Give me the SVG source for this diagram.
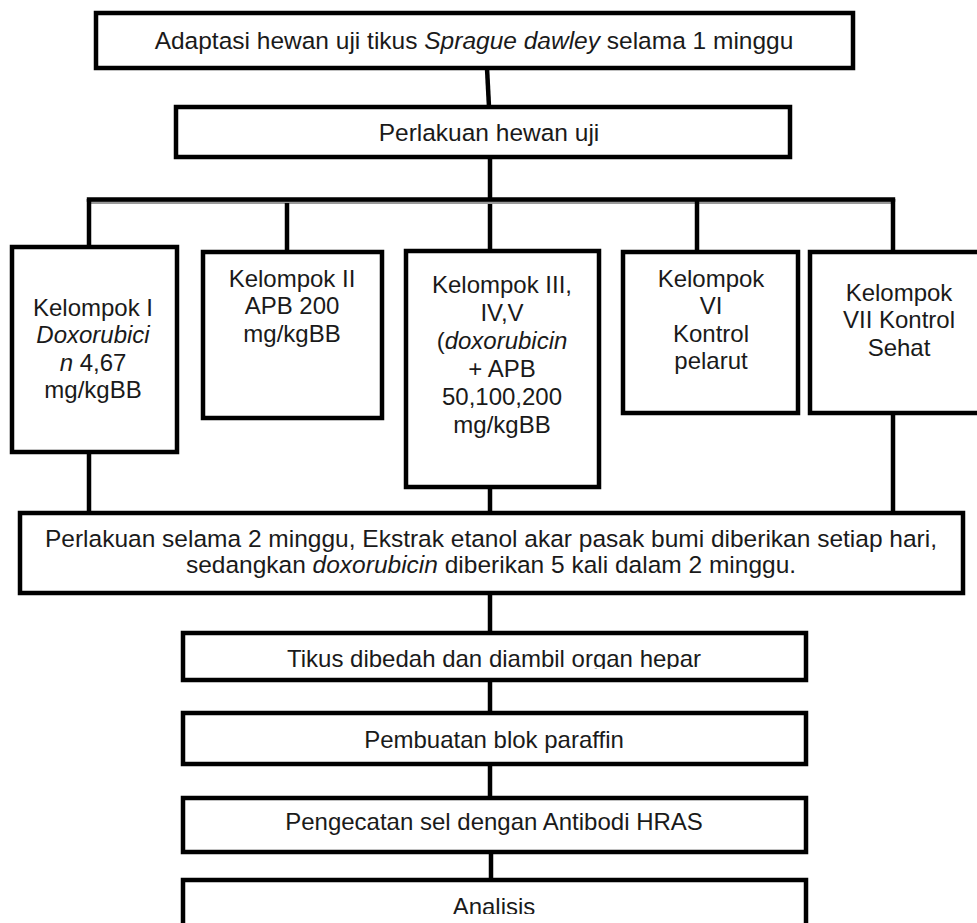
<svg xmlns="http://www.w3.org/2000/svg" width="977" height="923" viewBox="0 0 977 923">
<style>
.box{fill:#fff;stroke:#000;stroke-width:4.5}
.ln{stroke:#000;stroke-width:4.5;fill:none}
.t{font-family:"Liberation Sans",Arial,sans-serif;font-size:24px;fill:#1a1a1a;text-anchor:middle}
.w{font-size:24.5px}
.i{font-style:italic}
</style>
<defs>
<clipPath id="clipTikus"><rect x="185" y="636" width="620" height="33"/></clipPath>
<clipPath id="clipAnalisis"><rect x="185" y="883" width="620" height="31"/></clipPath>
</defs>
<rect width="977" height="923" fill="#fff"/>
<g id="connectors">
<line class="ln" x1="487" y1="68" x2="489" y2="107"/>
<line class="ln" x1="490" y1="157" x2="490" y2="251"/>
<line x1="88" y1="202.5" x2="893" y2="202.5" stroke="#999" stroke-width="3"/>
<line class="ln" x1="86.8" y1="199.5" x2="895.2" y2="199.5"/>
<line class="ln" x1="89" y1="199" x2="89" y2="247"/>
<line class="ln" x1="287" y1="203" x2="287" y2="252"/>
<line class="ln" x1="697" y1="199" x2="697" y2="252"/>
<line class="ln" x1="893" y1="199" x2="893" y2="252"/>
<line class="ln" x1="89" y1="452" x2="89" y2="513"/>
<line class="ln" x1="490" y1="487" x2="490" y2="513"/>
<line class="ln" x1="893" y1="413" x2="893" y2="513"/>
<line class="ln" x1="490" y1="593" x2="490" y2="633"/>
<line class="ln" x1="490" y1="680" x2="490" y2="713"/>
<line class="ln" x1="490" y1="764" x2="490" y2="798"/>
<line class="ln" x1="491" y1="852" x2="491" y2="880"/>
</g>
<g id="adaptasi">
<rect class="box" x="96" y="13" width="757" height="55"/>
<text class="t w" x="474" y="49">Adaptasi hewan uji tikus <tspan class="i">Sprague dawley</tspan> selama 1 minggu</text>
</g>
<g id="perlakuan">
<rect class="box" x="176" y="107" width="614" height="50"/>
<text class="t w" x="489" y="141">Perlakuan hewan uji</text>
</g>
<g id="kelompok1">
<rect class="box" x="12" y="247" width="165" height="205"/>
<text class="t" x="93" y="316">Kelompok I</text>
<text class="t i" x="93" y="343">Doxorubici</text>
<text class="t" x="93" y="371"><tspan class="i">n</tspan> 4,67</text>
<text class="t" x="93" y="398">mg/kgBB</text>
</g>
<g id="kelompok2">
<rect class="box" x="203" y="252" width="179" height="166"/>
<text class="t" x="292" y="287">Kelompok II</text>
<text class="t" x="292" y="314">APB 200</text>
<text class="t" x="292" y="342">mg/kgBB</text>
</g>
<g id="kelompok3">
<rect class="box" x="406" y="251" width="193" height="236"/>
<text class="t" x="502" y="293">Kelompok III,</text>
<text class="t" x="502" y="321">IV,V</text>
<text class="t" x="502" y="349">(<tspan class="i">doxorubicin</tspan></text>
<text class="t" x="502" y="377">+ APB</text>
<text class="t" x="502" y="405">50,100,200</text>
<text class="t" x="502" y="433">mg/kgBB</text>
</g>
<g id="kelompok6">
<rect class="box" x="623" y="252" width="175" height="161"/>
<text class="t" x="711" y="287">Kelompok</text>
<text class="t" x="711" y="314">VI</text>
<text class="t" x="711" y="342">Kontrol</text>
<text class="t" x="711" y="369">pelarut</text>
</g>
<g id="kelompok7">
<rect class="box" x="810" y="252" width="180" height="161"/>
<text class="t" x="899" y="301">Kelompok</text>
<text class="t" x="899" y="328">VII Kontrol</text>
<text class="t" x="899" y="356">Sehat</text>
</g>
<g id="perlakuan2minggu">
<rect class="box" x="20" y="513" width="943" height="80"/>
<text class="t w" x="491" y="547">Perlakuan selama 2 minggu, Ekstrak etanol akar pasak bumi diberikan setiap hari,</text>
<text class="t w" x="491" y="573">sedangkan <tspan class="i">doxorubicin</tspan> diberikan 5 kali dalam 2 minggu.</text>
</g>
<g id="tikus">
<rect class="box" x="183" y="633" width="623" height="47"/>
<text class="t" x="494" y="667" clip-path="url(#clipTikus)">Tikus dibedah dan diambil organ hepar</text>
</g>
<g id="pembuatan">
<rect class="box" x="183" y="713" width="623" height="51"/>
<text class="t" x="494" y="748">Pembuatan blok paraffin</text>
</g>
<g id="pengecatan">
<rect class="box" x="183" y="798" width="623" height="54"/>
<text class="t" x="494" y="830">Pengecatan sel dengan Antibodi HRAS</text>
</g>
<g id="analisis">
<rect class="box" x="183" y="880" width="623" height="60"/>
<text class="t" x="494" y="915" clip-path="url(#clipAnalisis)">Analisis</text>
</g>
</svg>
